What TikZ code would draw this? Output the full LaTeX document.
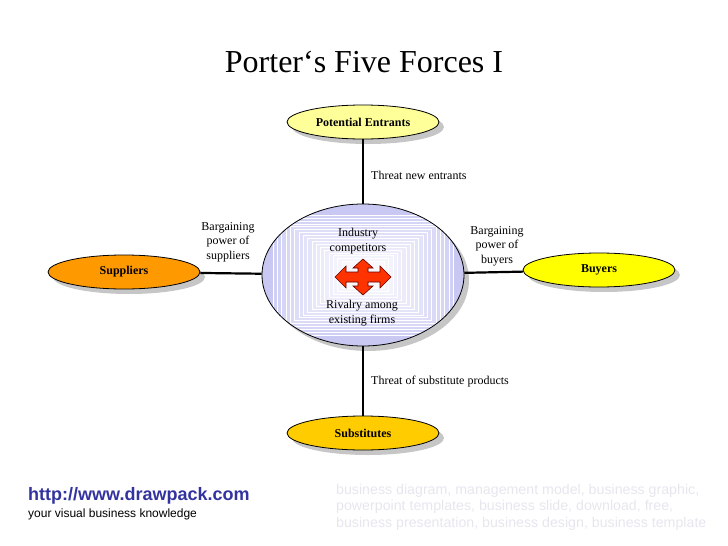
\documentclass[tikz,border=0pt]{standalone}
\usepackage{fontspec}
\setmainfont{Liberation Serif}
\setsansfont{Liberation Sans}
\usetikzlibrary{shapes.geometric,shadows,calc}
\definecolor{lav}{RGB}{200,200,242}
\definecolor{paleyel}{RGB}{255,255,153}
\definecolor{orng}{RGB}{255,153,0}
\definecolor{yel}{RGB}{255,255,0}
\definecolor{gold}{RGB}{255,204,0}
\definecolor{arrred}{RGB}{255,51,0}
\definecolor{linkblue}{RGB}{51,51,160}
\definecolor{faint}{RGB}{230,230,238}
\tikzset{
  force/.style={ellipse, draw=black, line width=0.8pt, minimum width=152pt, minimum height=34pt, inner sep=0pt,
    font=\fontsize{12}{14}\selectfont\bfseries,
    drop shadow={shadow xshift=5pt, shadow yshift=-5pt, opacity=0.45, fill=gray}},
  lbl/.style={font=\fontsize{12}{14.5}\selectfont, align=center, inner sep=0pt},
  conn/.style={line width=2.2pt, black}
}
\begin{document}
\begin{tikzpicture}[x=1pt,y=-1pt]
\useasboundingbox (0,0) rectangle (728,546);
% title
\node[font=\fontsize{32}{36}\selectfont] (title) at (364,62) {Porter‘s Five Forces I};
% core
\node[ellipse, draw=black, line width=0.8pt, minimum width=202pt, minimum height=142pt, fill=lav,
  drop shadow={shadow xshift=5pt, shadow yshift=-5pt, opacity=0.45, fill=gray},
  path picture={
    \begin{scope}[shift={(path picture bounding box.center)}]
    \foreach \i in {0,...,16}{
      \pgfmathsetmacro\w{90-4.3*\i}
      \pgfmathsetmacro\h{60-2.9*\i}
      \pgfmathsetmacro\c{85-4.5*\i}
      \filldraw[draw=white, line width=0.3pt, fill=lav!\c!white] (-\w pt,-\h pt) rectangle (\w pt,\h pt);
    }
    \end{scope}
  }] (core) at (363,275) {};
% forces
\node[force, fill=paleyel] (pe) at (363,122) {Potential Entrants};
\node[force, fill=orng] (sup) at (124,272) {Suppliers};
\node[force, fill=yel] (buy) at (599,270) {Buyers};
\node[force, fill=gold] (sub) at (363,433) {Substitutes};
% connectors
\draw[conn] (pe.south) -- (core.north);
\draw[conn] (sub.north) -- (core.south);
\draw[conn] (sup) -- (core);
\draw[conn] (buy) -- (core);
% labels
\node[lbl, anchor=west] (tne) at (371,175) {Threat new entrants};
\node[lbl, anchor=west] (tsp) at (371,382) {Threat of substitute products};
\node[lbl] (bps) at (228,242) {Bargaining\\power of\\suppliers};
\node[lbl] (bpb) at (497,246) {Bargaining\\power of\\buyers};
\node[lbl] (ic) at (358,241) {Industry\\competitors};
\node[lbl] (rae) at (362,313) {Rivalry among\\existing firms};
% four-way arrow
\filldraw[fill=arrred, draw=red!40!black, line width=0.6pt, shift={(363,277)}]
 (28,0) -- (17,-11) -- (17,-5) -- (5,-5) -- (5,-9) -- (10,-9) -- (0,-18) -- (-10,-9) -- (-5,-9) -- (-5,-5)
 -- (-17,-5) -- (-17,-11) -- (-28,0) -- (-17,11) -- (-17,5) -- (-5,5) -- (-5,9) -- (-10,9) -- (0,18)
 -- (10,9) -- (5,9) -- (5,5) -- (17,5) -- (17,11) -- cycle;
% footer
\node[anchor=west, inner sep=0pt, font=\sffamily\bfseries\fontsize{18}{20}\selectfont, text=linkblue] (url) at (28,496) {http://www.drawpack.com};
\node[anchor=west, inner sep=0pt, font=\sffamily\fontsize{12}{14}\selectfont] (tag) at (28,514) {your visual business knowledge};
\node[anchor=north west, inner sep=0pt, align=left, text=faint, font=\sffamily\fontsize{14.2}{16.5}\selectfont] (kw) at (336,484)
 {business diagram, management model, business graphic,\\powerpoint templates, business slide, download, free,\\business presentation, business design, business template};
\end{tikzpicture}
\end{document}
